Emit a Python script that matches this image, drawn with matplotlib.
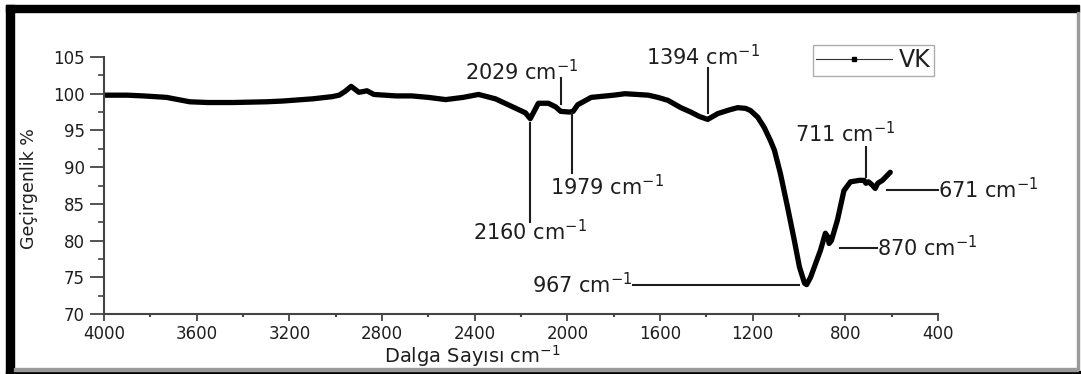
'''FTIR spectrum of the VK sample with the marked bands.'''

# ----------------------------------------------------------------------------
# Modules

from matplotlib import pyplot as plt
from matplotlib.lines import Line2D
from matplotlib.patches import Rectangle
from matplotlib.ticker import MultipleLocator

# ----------------------------------------------------------------------------
# Data

wavenumber = [4000, 3900, 3830, 3730, 3630, 3550, 3445, 3300, 3230, 3100,
              3015, 2985, 2960, 2933, 2900, 2880, 2865, 2835, 2740, 2671,
              2600, 2525, 2450, 2383, 2310, 2181, 2160, 2140, 2125, 2082,
              2050, 2029, 1990, 1975, 1955, 1897, 1800, 1751, 1650, 1609,
              1566, 1510, 1467, 1430, 1394, 1350, 1300, 1265, 1230, 1209,
              1178, 1150, 1123, 1106, 1080, 1049, 1020, 998, 976, 967,
              950, 907, 886, 875, 870, 860, 834, 806, 778, 740,
              719, 711, 700, 685, 671, 660, 640, 606]
transmittance = [99.8, 99.8, 99.7, 99.5, 98.9, 98.8, 98.8, 98.9, 99.0, 99.3,
                 99.6, 99.8, 100.3, 101.0, 100.2, 100.3, 100.4, 99.9, 99.7,
                 99.7, 99.5, 99.2, 99.5, 99.9, 99.3, 97.4, 96.6, 97.8, 98.7,
                 98.7, 98.2, 97.6, 97.5, 97.6, 98.5, 99.5, 99.8, 100.0, 99.8,
                 99.5, 99.1, 98.1, 97.5, 96.9, 96.5, 97.3, 97.8, 98.1, 98.0,
                 97.7, 96.8, 95.4, 93.6, 92.3, 89.1, 84.5, 80.0, 76.4, 74.2,
                 74.0, 75.0, 78.7, 81.0, 80.5, 79.6, 80.0, 82.8, 86.8, 88.0,
                 88.2, 88.2, 87.8, 88.0, 87.6, 87.1, 87.8, 88.2, 89.3]

# vertical markers: band, label x, label y, line from, line to
vert_bands = ['2029', '2160', '1979', '1394', '711']
vert_label_x = [2196, 2160, 1829, 1415, 802]
vert_label_y = [103.0, 81.2, 87.3, 105.0, 94.6]
vert_line_top = [102.1, 96.0, 97.4, 103.5, 92.7]
vert_line_bot = [98.6, 82.5, 89.2, 97.4, 88.7]

# horizontal markers: band, line start, line end (label side), level
horiz_bands = ['967', '671', '870']
horiz_start = [1000, 621, 823]
horiz_end = [1717, 400, 664]
horiz_level = [74.0, 86.9, 79.0]

# ----------------------------------------------------------------------------


def ftir_plot():
    """Plots the FTIR spectrum and saves it as out.png."""

    text_c = '#1e1e1e'
    figure = plt.figure(figsize=(10.81, 3.74), dpi=100)
    ax = figure.add_axes([0.0962, 0.1604, 0.7715, 0.6872])

    ax.plot(wavenumber, transmittance, color='black', linewidth=3.8,
            solid_joinstyle='round', solid_capstyle='round')

    # Band markers
    for band, lx, ly, y0, y1 in zip(vert_bands, vert_label_x, vert_label_y,
                                    vert_line_top, vert_line_bot):
        ax.plot([int(band), int(band)], [y0, y1], color='#1e1e1e',
                linewidth=1.5, clip_on=False)
        ax.text(lx, ly, f'{band} cm$^{{-1}}$', fontsize=15, color=text_c,
                ha='center', va='center', clip_on=False)

    for band, x0, x1, lev in zip(horiz_bands, horiz_start, horiz_end,
                                 horiz_level):
        ax.plot([x0, x1], [lev, lev], color='#1e1e1e', linewidth=1.5,
                clip_on=False)
        side = 'right' if x1 > x0 else 'left'
        ax.text(x1, lev, f'{band} cm$^{{-1}}$', fontsize=15, color=text_c,
                ha=side, va='center', clip_on=False)

    # Axes
    ax.set_xlim(4000, 400)
    ax.set_ylim(70, 105)
    ax.xaxis.set_major_locator(MultipleLocator(400))
    ax.xaxis.set_minor_locator(MultipleLocator(200))
    ax.yaxis.set_major_locator(MultipleLocator(5))
    ax.yaxis.set_minor_locator(MultipleLocator(2.5))
    for side in ['top', 'right']:
        ax.spines[side].set_visible(False)
    for side in ['left', 'bottom']:
        ax.spines[side].set_color('#444444')
        ax.spines[side].set_linewidth(1.5)
    ax.tick_params(axis='y', which='major', length=10, width=1.3,
                   color='#444444', labelsize=12, labelcolor=text_c, pad=4)
    ax.tick_params(axis='y', which='minor', length=4, width=1.2,
                   color='#444444')
    ax.tick_params(axis='x', which='major', length=5, width=1.3,
                   color='#444444', labelsize=12, labelcolor=text_c, pad=3)
    ax.tick_params(axis='x', which='minor', length=2.5, width=1.5,
                   color='#444444')

    ax.set_xlabel('Dalga Sayısı cm$^{-1}$', fontsize=14, color=text_c)
    ax.set_ylabel('Geçirgenlik %', fontsize=12.5, color=text_c)
    ax.xaxis.set_label_coords(0.442, -0.115)
    ax.yaxis.set_label_coords(-0.079, 0.49)

    # Legend
    handle = Line2D([], [], color='#333333', linewidth=0.8, marker='s',
                    markersize=3.5, markerfacecolor='black',
                    markeredgecolor='black')
    leg = ax.legend([handle], ['VK'], loc='upper left',
                    bbox_to_anchor=(0.752, 0.880),
                    bbox_transform=figure.transFigure, fontsize=17,
                    frameon=True, fancybox=False, handlelength=3.2,
                    borderpad=0.15, handletextpad=0.3, borderaxespad=0)
    leg.get_frame().set_edgecolor('#999999')
    leg.get_frame().set_linewidth(1.0)
    for txt in leg.get_texts():
        txt.set_color(text_c)

    # Picture frame
    def px_rect(x0, y0, x1, y1, color):
        figure.patches.append(Rectangle(
            (x0 / 1081, 1 - y1 / 374), (x1 - x0) / 1081, (y1 - y0) / 374,
            transform=figure.transFigure, color=color, zorder=10))

    px_rect(6, 5, 1079, 12, 'black')
    px_rect(6, 5, 14, 374, 'black')
    px_rect(6, 370.5, 1081, 374, 'black')
    px_rect(14, 368, 1078, 370.5, '#9a9a9a')
    px_rect(1076.5, 12, 1078.5, 370, '#9a9a9a')

    figure.savefig('out.png', dpi=100)

    return None

# ----------------------------------------------------------------------------


def main():

    ftir_plot()

    return None

# ----------------------------------------------------------------------------


if __name__ == "__main__":
    main()
